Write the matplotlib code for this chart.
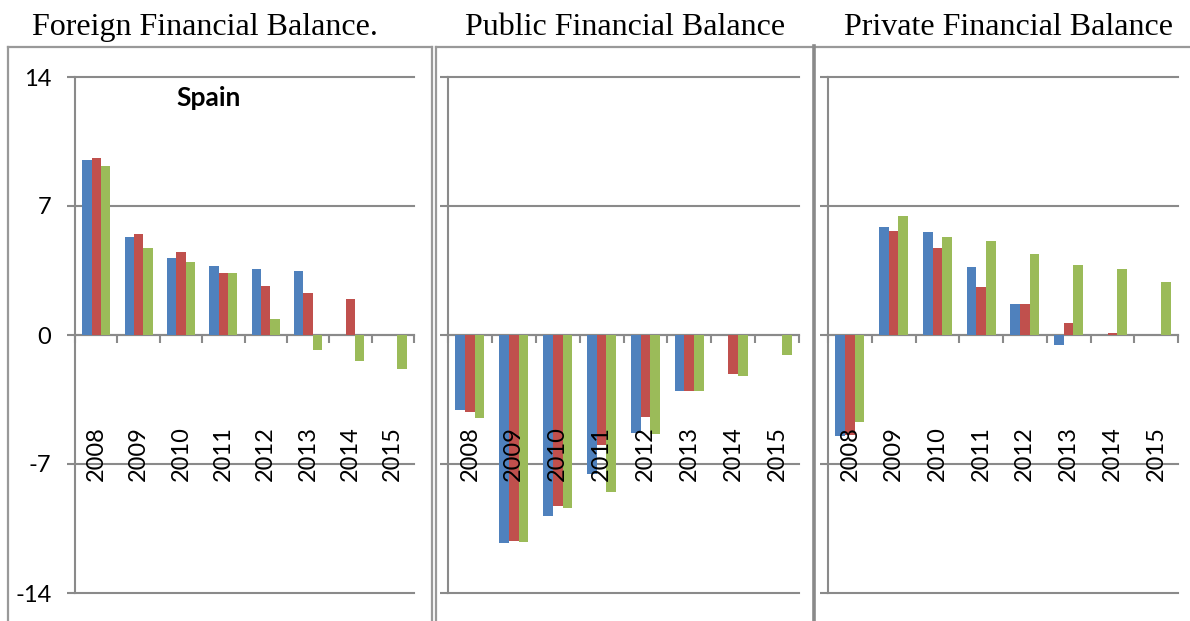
import numpy as np
import matplotlib
matplotlib.use("Agg")
import matplotlib.pyplot as plt
from matplotlib.lines import Line2D
from matplotlib.transforms import blended_transform_factory

plt.rcParams['axes.unicode_minus'] = False

years = ['2008', '2009', '2010', '2011', '2012', '2013', '2014', '2015']

foreign_blue = [9.50, 5.34, 4.16, 3.76, 3.58, 3.47, np.nan, np.nan]
foreign_red = [9.62, 5.48, 4.49, 3.38, 2.68, 2.28, 1.97, np.nan]
foreign_green = [9.17, 4.70, 3.94, 3.38, 0.87, -0.81, -1.41, -1.83]

public_blue = [-4.09, -11.29, -9.84, -7.52, -5.34, -3.02, np.nan, np.nan]
public_red = [-4.18, -11.16, -9.30, -5.97, -4.45, -3.02, -2.12, np.nan]
public_green = [-4.51, -11.21, -9.39, -8.54, -5.36, -3.02, -2.22, -1.10]

private_blue = [-5.46, 5.86, 5.59, 3.67, 1.68, -0.52, np.nan, np.nan]
private_red = [-5.44, 5.63, 4.72, 2.59, 1.68, 0.67, 0.09, np.nan]
private_green = [-4.72, 6.44, 5.34, 5.08, 4.40, 3.78, 3.58, 2.88]

titles = ['Foreign Financial Balance.', 'Public Financial Balance', 'Private Financial Balance']
y_ticks = [-14, -7, 0, 7, 14]
country = 'Spain'

colors = ['#4F81BD', '#C0504D', '#9BBB59']
grid_c = '#8a8a8a'
sans = ['Lato', 'DejaVu Sans']
serif = ['Liberation Serif', 'DejaVu Serif']

W, H = 1190, 621
fig = plt.figure(figsize=(W / 100, H / 100), dpi=100)

def fx(px):
    return px / W

def fy(py):
    return 1 - py / H

panels = [
    (75, 414, [foreign_blue, foreign_red, foreign_green], True),
    (448, 799, [public_blue, public_red, public_green], False),
    (828, 1178, [private_blue, private_red, private_green], False),
]
title_x = [204.5, 625.5, 1008.5]

top_px, bot_px = 77, 593
x = np.arange(len(years))
bw = 0.22
for i, (l, r, series, show_y) in enumerate(panels):
    ax = fig.add_axes([fx(l), fy(bot_px), (r - l) / W, (bot_px - top_px) / H])
    for k, (vals, c) in enumerate(zip(series, colors)):
        ax.bar(x + (k - 1) * bw, vals, width=bw, color=c, zorder=3)
    ax.set_xlim(-0.5, len(years) - 0.5)
    ax.set_ylim(-14, 14)
    ax.set_yticks(y_ticks)
    ax.yaxis.grid(True, color=grid_c, linewidth=1.5, zorder=1)
    for g in ax.get_ygridlines():
        g.set_clip_on(False)
    ax.tick_params(axis='y', direction='out', length=6, width=1.5, color=grid_c,
                   labelsize=17, pad=11, labelleft=show_y)
    for lab in ax.get_yticklabels():
        lab.set_family(sans)
    for s in ['top', 'right']:
        ax.spines[s].set_visible(False)
    ax.spines['left'].set_color(grid_c)
    ax.spines['left'].set_linewidth(1.5)
    ax.spines['bottom'].set_position(('data', 0))
    ax.spines['bottom'].set_color(grid_c)
    ax.spines['bottom'].set_linewidth(1.5)
    ax.set_xticks(np.arange(len(years) + 1) - 0.5)
    ax.set_xticklabels([])
    ax.tick_params(axis='x', direction='out', length=6, width=1.5, color=grid_c)
    trans = blended_transform_factory(ax.transData, ax.transAxes)
    for xi, yr in zip(x, years):
        ax.text(xi, (bot_px - 426) / (bot_px - top_px), yr, rotation=90, ha='center', va='top',
                fontsize=17, family=sans, transform=trans, zorder=5)
    if show_y:
        ax.text(0.395, (bot_px - 86) / (bot_px - top_px), country, transform=ax.transAxes,
                ha='center', va='top', fontsize=19, fontweight='bold', family=sans)
    fig.text(fx(title_x[i]), fy(35), titles[i], ha='center', va='baseline',
             fontsize=23, family=serif)

box_c = '#999999'
def line(x0, y0, x1, y1, lw=1.6, c=box_c):
    fig.add_artist(Line2D([fx(x0), fx(x1)], [fy(y0), fy(y1)], color=c, linewidth=lw,
                          transform=fig.transFigure))

# panel boxes
line(8, 47, 431.5, 47)
line(8, 47, 8, 625)
line(431.5, 47, 431.5, 625)
line(435.7, 47, 814, 47)
line(435.7, 47, 435.7, 625)
line(814, 47, 1195, 47)
line(814, 46, 814, 625, lw=2.6, c='#8a8a8a')

fig.savefig('out.png', dpi=100)
